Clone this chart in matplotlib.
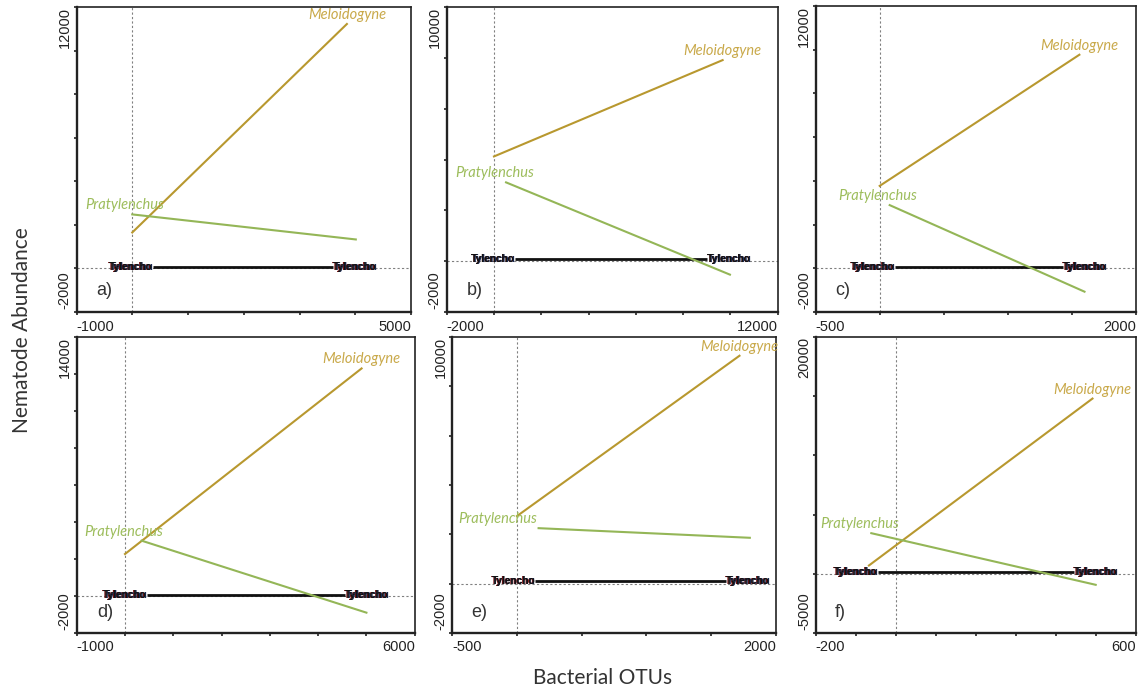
import numpy as np
import matplotlib
matplotlib.use("Agg")
import matplotlib.pyplot as plt

# ---- data (six CANOCO-style response panels) ----
panel_tags = ["a)", "b)", "c)", "d)", "e)", "f)"]
x_limits = [(-1000, 5000), (-2000, 12000), (-500, 2000),
            (-1000, 6000), (-500, 2000), (-200, 600)]
y_limits = [(-2000, 12000), (-2000, 10000), (-2000, 12000),
            (-2000, 14000), (-2000, 10000), (-5000, 20000)]
x_steps = [1000, 2000, 500, 1000, 500, 100]
y_steps = [2000, 2000, 2000, 2000, 2000, 5000]

# Meloidogyne: start (x, y) and end (x, y)
melo_start = [(0, 1650), (0, 4120), (0, 3770), (0, 2270), (0, 2740), (-67, 700)]
melo_end = [(3850, 11220), (9670, 7910), (1560, 9770),
            (4900, 12300), (1720, 9240), (492, 14800)]

# Pratylenchus: start (x, y) and end (x, y)
prat_start = [(0, 2480), (510, 3100), (78, 2890), (345, 2990), (167, 2250), (-61, 3430)]
prat_end = [(4010, 1330), (9980, -530), (1600, -1070),
            (5000, -900), (1800, 1860), (500, -930)]

# Tylenchus group: nearly flat line at zero
tyl_start = [364, 890, 117, 455, 141, -45]
tyl_end = [3600, 9020, 1430, 4555, 1615, 445]
tyl_level = [60, 90, 70, 55, 90, 190]

x_title = "Bacterial OTUs"
y_title = "Nematode Abundance"

# ---- layout (pixel boxes: left, top, right, bottom) ----
W, H = 1140, 691
boxes = [(76.5, 7, 411, 312), (446.7, 7, 777.7, 312), (815.7, 6, 1135.7, 312),
         (76.7, 337, 414.7, 633), (452.3, 337, 775.7, 633), (815.7, 337, 1135.7, 633)]
# Pratylenchus label centre offsets from the line start, in pixels
prat_dx = [-8, -11, -12, -18, -41, -12]

melo_col = "#b8982f"
melo_txt = "#c9a94a"
prat_col = "#94b657"
prat_txt = "#9dbd5c"

fig = plt.figure(figsize=(W / 100, H / 100), dpi=100)

for i in range(6):
    l, t, r, b = boxes[i]
    ax = fig.add_axes([l / W, 1 - b / H, (r - l) / W, (b - t) / H])
    x0, x1 = x_limits[i]
    y0, y1 = y_limits[i]
    ax.set_xlim(x0, x1)
    ax.set_ylim(y0, y1)
    ax.set_xticks(np.arange(x0, x1 + 1, x_steps[i]))
    ax.set_yticks(np.arange(y0, y1 + 1, y_steps[i]))
    ax.set_xticklabels([])
    ax.set_yticklabels([])
    ax.tick_params(direction="out", length=2.5, width=1.2, color="#222222")
    for name, s in ax.spines.items():
        s.set_linewidth(1.7 if name in ("left", "bottom") else 1.2)
        s.set_color("#222222")

    # zero reference lines
    ax.axhline(0, color="#808080", lw=0.8, ls=(0, (2, 2)), zorder=1)
    ax.axvline(0, color="#808080", lw=0.8, ls=(0, (2, 2)), zorder=1)

    # end-only tick labels
    ax.text(0, -0.025, f"{x0}", transform=ax.transAxes, ha="left", va="top",
            fontsize=10.5, family="Liberation Sans", color="#222222")
    ax.text(1, -0.025, f"{x1}", transform=ax.transAxes, ha="right", va="top",
            fontsize=10.5, family="Liberation Sans", color="#222222")
    ax.text(-0.015, 1, f"{y1}", transform=ax.transAxes, ha="right", va="top",
            rotation=90, fontsize=10.5, family="Liberation Sans", color="#222222")
    ax.text(-0.015, 0.01, f"{y0}", transform=ax.transAxes, ha="right", va="bottom",
            rotation=90, fontsize=10.5, family="Liberation Sans", color="#222222")

    # Tylenchus group
    ax.plot([tyl_start[i], tyl_end[i]], [tyl_level[i], tyl_level[i]],
            color="#111111", lw=2.0, zorder=3, solid_capstyle="butt")
    for txt, col, dx in [("Tylencho", "#7a1010", -0.6), ("Tylenchu", "#1a2a55", 0.6),
                         ("Tylencho", "#111111", 0)]:
        ax.annotate(txt, (tyl_start[i], tyl_level[i]), xytext=(dx, 0),
                    textcoords="offset points", ha="right", va="center",
                    fontsize=7.3, fontweight="bold", family="Liberation Sans",
                    color=col, zorder=4)
        ax.annotate(txt, (tyl_end[i], tyl_level[i]), xytext=(dx, 0),
                    textcoords="offset points", ha="left", va="center",
                    fontsize=7.3, fontweight="bold", family="Liberation Sans",
                    color=col, zorder=4)

    # Meloidogyne
    (mx0, my0), (mx1, my1) = melo_start[i], melo_end[i]
    ax.plot([mx0, mx1], [my0, my1], color=melo_col, lw=1.5, zorder=3)
    ax.annotate("Meloidogyne", (mx1, my1), xytext=(0, 2), textcoords="offset pixels",
                ha="center", va="bottom", fontsize=10.5, style="italic",
                family="Lato", color=melo_txt, zorder=4)

    # Pratylenchus
    (px0, py0), (px1, py1) = prat_start[i], prat_end[i]
    ax.plot([px0, px1], [py0, py1], color=prat_col, lw=1.5, zorder=3)
    ax.annotate("Pratylenchus", (px0, py0), xytext=(prat_dx[i], 2),
                textcoords="offset pixels", ha="center", va="bottom",
                fontsize=10.5, style="italic", family="Lato", color=prat_txt, zorder=4)

    # panel tag
    ax.text(0.06, 0.07, panel_tags[i], transform=ax.transAxes, ha="left",
            va="center", fontsize=13, family="Liberation Sans", color="#333333")

fig.text(22 / W, 1 - 330 / H, y_title, rotation=90, ha="center", va="center",
         fontsize=15, family="Lato", color="#333333")
fig.text(603 / W, 1 - 678 / H, x_title, ha="center", va="center",
         fontsize=15, family="Lato", color="#333333")

fig.savefig("out.png", dpi=100, facecolor="white")
